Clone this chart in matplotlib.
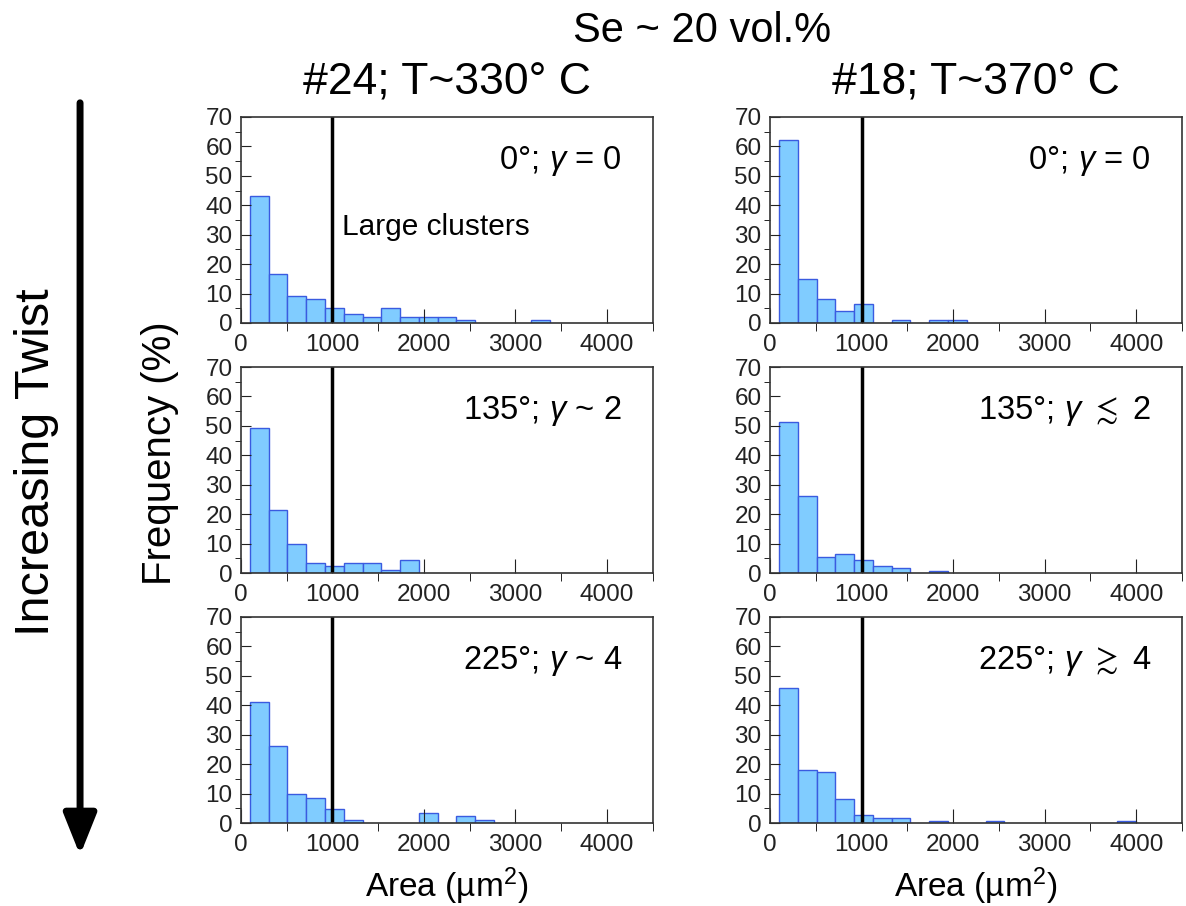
import numpy as np
import matplotlib
matplotlib.use("Agg")
from matplotlib import pyplot as plt
from matplotlib.ticker import MultipleLocator

plt.rcParams['font.family'] = ['Liberation Sans', 'DejaVu Sans']
plt.rcParams['mathtext.fontset'] = 'custom'
plt.rcParams['mathtext.rm'] = 'Liberation Sans'
plt.rcParams['mathtext.it'] = 'Liberation Sans:italic'
plt.rcParams['mathtext.fallback'] = 'stixsans'

# histogram bins (area, um^2)
bin_start = 100
bin_width = 205

# frequencies (%) per bin
tl = [43, 16.5, 9.2, 8.1, 5.1, 3.1, 1.9, 5.1, 1.9, 1.9, 1.9, 1.0, 0, 0, 0, 1.0]
tr = [62.3, 14.9, 8.3, 4.2, 6.3, 0, 1.0, 0, 1.0, 1.0]
ml = [49.4, 21.5, 9.8, 3.5, 2.5, 3.5, 3.5, 0.9, 4.3]
mr = [51.4, 26.1, 5.5, 6.5, 4.4, 2.5, 1.6, 0, 0.8]
bl = [41.0, 26.1, 9.8, 8.5, 4.8, 1.0, 0, 0, 0, 3.5, 0, 2.3, 1.0]
br = [45.8, 18.1, 17.2, 8.0, 2.8, 1.7, 1.7, 0, 0.8, 0, 0, 0.8, 0, 0, 0, 0, 0, 0, 0.8]

labels = [[r"0°$\mathit{;\,\gamma}$ = $\mathit{0}$", r"0°$\mathit{;\,\gamma}$ = $\mathit{0}$"],
          [r"135°$\mathit{;\,\gamma}$ ~ 2", r"135°$\mathit{;\,\gamma}$ $\lesssim$ 2"],
          [r"225°$\mathit{;\,\gamma}$ ~ 4", r"225°$\mathit{;\,\gamma}$ $\gtrsim$ $\mathit{4}$"]]
data = [[tl, tr], [ml, mr], [bl, br]]
col_titles = ["#24; T~330° C", "#18; T~370° C"]
cutoff = 1000

fig = plt.figure(figsize=(11.86, 9.06), dpi=100)

lefts = [0.203, 0.6492]
bottoms = [0.6435, 0.3675, 0.0916]
w = 0.3474
h = 0.2274

for r in range(3):
    for c in range(2):
        ax = fig.add_axes([lefts[c], bottoms[r], w, h])
        vals = np.array(data[r][c], dtype=float)
        edges = bin_start + bin_width * np.arange(len(vals))
        keep = vals > 0
        ax.bar(edges[keep], vals[keep], width=bin_width, align='edge',
               color='#80ccff', edgecolor='#3a5be0', linewidth=1)
        ax.plot([cutoff, cutoff], [0, 70], color='black', lw=2.5)
        ax.set_xlim(0, 4500)
        ax.set_ylim(0, 70)
        ax.xaxis.set_major_locator(MultipleLocator(1000))
        ax.xaxis.set_minor_locator(MultipleLocator(500))
        ax.yaxis.set_major_locator(MultipleLocator(10))
        ax.yaxis.set_minor_locator(MultipleLocator(5))
        ax.tick_params(direction='in', top=False, right=False, labelsize=17.5, colors='#222222')
        ax.tick_params(axis='x', which='major', length=10, pad=8)
        ax.tick_params(axis='x', which='minor', length=6)
        ax.tick_params(axis='y', which='major', length=7, pad=6)
        ax.tick_params(axis='y', which='minor', length=4)
        for s in ax.spines.values():
            s.set_color('#333333')
            s.set_linewidth(1.2)
        ax.text(0.925, 0.786, labels[r][c], transform=ax.transAxes,
                ha='right', va='center', fontsize=23.5)
        if r == 2:
            ax.set_xlabel("Area (µm$^2$)", fontsize=24, labelpad=7)
        if r == 0 and c == 0:
            ax.text(1107, 32.6, "Large clusters", fontsize=21.5, va='center')
        if r == 0:
            ax.set_title(col_titles[c], fontsize=32, pad=16)

fig.text(0.592, 0.966, "Se ~ 20 vol.%", fontsize=30, ha='center', va='center')
fig.text(0.135, 0.5, "Frequency (%)", fontsize=29, rotation=90, ha='center', va='center')
fig.text(0.031, 0.49, "Increasing Twist", fontsize=35, rotation=90, ha='center', va='center')

fig.patches.append(plt.matplotlib.patches.FancyArrowPatch(
    (0.0675, 0.8896), (0.0675, 0.053), transform=fig.transFigure, figure=fig,
    arrowstyle='-|>,head_width=0.4,head_length=1.0', mutation_scale=25,
    lw=5, color='black'))

fig.savefig("out.png", dpi=100)
